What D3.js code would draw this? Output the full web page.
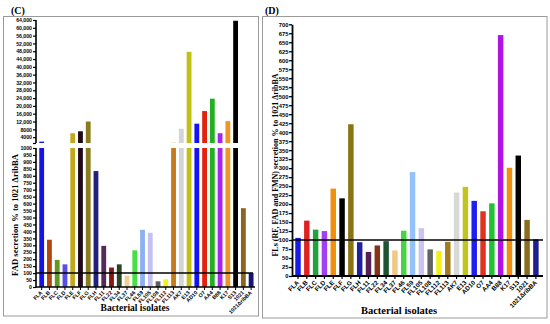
<!DOCTYPE html>
<html><head><meta charset="utf-8">
<script src="https://cdn.jsdelivr.net/npm/d3@7"></script>
<style>body{margin:0;background:#fff} svg{display:block}</style></head>
<body><svg id="chart" width="550" height="324"></svg>
<script>
const categories = ["FLA","FLB","FLC","FLD","FLE","FLF","FLG","FLH","FL11","FL22","FL34","FL37","FL46","FL59","FL105","FL108","FL112","FL113","AK7","E13","AD10","O7","AA4","B88","K17","S13","1021","1021\u0394ribBA"];
// Panel C: FAD secretion % (broken axis)
const fadValues = [1700,340,195,163,6000,7000,12000,834,296,140,163,82,264,411,390,41,55,1100,8300,47700,10900,17350,23700,6000,12200,63600,567,100];
// Panel D: FLs secretion %
const flsValues = [106,154,129,125,243,216,422,94,67,85,97,71,126,289,133,74,70,95,232,248,209,180,202,670,301,335,156,102];
const colorsC = ["#1414e6","#b2460e","#5f9a1e","#5a4ee6","#c2a81e","#200818","#8a7c1e","#22207e","#542a56","#8c1410","#2c4424","#ead294","#44e044","#8cb0f2","#c4c0f2","#5e5e5e","#f2f01e","#c47a1e","#d4d4d4","#c2c014","#1414f2","#e0220e","#22b022","#a424f0","#f09424","#000000","#8c6420","#14147e"];
const colorsD = ["#1a1ae6","#e02020","#20a23c","#a040f0","#f0900e","#000000","#8a7412","#20209e","#542056","#84341a","#1e5230","#f2c888","#44d444","#94c2f8","#cac4f2","#626262","#f2f014","#a47a1e","#d8d8d8","#c2c420","#1e1ef2","#e0321e","#20c232","#b012e2","#f0900e","#000000","#8a6c1e","#20208e"];
const upperTicksC = d3.range(4000, 64001, 4000);
const lowerTicksC = d3.range(0, 1001, 50);
const ticksD = d3.range(0, 701, 25);

const svg = d3.select("#chart");
const tickFont = "Liberation Sans, Arial, sans-serif";
const serif = "Liberation Serif, Times New Roman, serif";

// frames
svg.append("rect").attr("x",3.5).attr("y",16.5).attr("width",255).attr("height",299.5).attr("fill","none").attr("stroke","#9a9a9a");
svg.append("rect").attr("x",262.5).attr("y",16.5).attr("width",284.5).attr("height",301.5).attr("fill","none").attr("stroke","#9a9a9a");
svg.append("text").attr("x",11).attr("y",14).attr("font-family",serif).attr("font-weight","bold").attr("font-size",10).text("(C)");
svg.append("text").attr("x",265).attr("y",14).attr("font-family",serif).attr("font-weight","bold").attr("font-size",10).text("(D)");

// ===== Panel C =====
const xC = d3.scaleBand().domain(categories).range([37.8, 255]).paddingInner(0.38).paddingOuter(0.19);
const yCL = d3.scaleLinear().domain([0, 1000]).range([287, 148]);
const yCU = d3.scaleLinear().domain([1000, 64000]).range([143, 20]);
const gC = svg.append("g");
categories.forEach((c, i) => {
  const v = fadValues[i];
  gC.append("rect").attr("x", xC(c)).attr("width", xC.bandwidth())
    .attr("y", yCL(Math.min(v, 1000))).attr("height", yCL(0) - yCL(Math.min(v, 1000)))
    .attr("fill", colorsC[i]);
  if (v > 1000) {
    gC.append("rect").attr("x", xC(c)).attr("width", xC.bandwidth())
      .attr("y", yCU(v)).attr("height", yCU(1000) - yCU(v)).attr("fill", colorsC[i]);
  }
});
// reference line 100
gC.append("line").attr("x1",36).attr("x2",253).attr("y1",yCL(100)).attr("y2",yCL(100)).attr("stroke","#000").attr("stroke-width",1.5);

const fmtC = v => v >= 10000 ? d3.format(",")(v) : String(v);
const axCU = gC.append("g").attr("transform","translate(36,0)")
  .call(d3.axisLeft(yCU).tickValues(upperTicksC.concat([1000])).tickSize(3).tickFormat(v => v === 1000 ? "" : fmtC(v)));
const axCL = gC.append("g").attr("transform","translate(36,0)")
  .call(d3.axisLeft(yCL).tickValues(lowerTicksC).tickSize(3).tickFormat(d => String(d)));
[axCU, axCL].forEach(a => {
  a.select(".domain").attr("stroke-width",1.6).attr("d", null);
  a.selectAll("text").attr("font-family",tickFont).attr("font-weight","bold").attr("font-size",5.2).attr("x",-4);
  a.selectAll("line").attr("stroke-width",1.2);
});
gC.append("line").attr("x1",36).attr("x2",36).attr("y1",20).attr("y2",143).attr("stroke","#000").attr("stroke-width",1.6);
gC.append("line").attr("x1",36).attr("x2",36).attr("y1",148).attr("y2",287.5).attr("stroke","#000").attr("stroke-width",1.6);

const axCX = gC.append("g").attr("transform","translate(0,287)")
  .call(d3.axisBottom(xC).tickSize(3).tickSizeOuter(0));
axCX.select(".domain").attr("stroke-width",1.6).attr("d","M36,0H255");
axCX.selectAll("line").attr("stroke-width",1);
axCX.selectAll("text").attr("font-family",tickFont).attr("font-weight","bold").attr("font-size",5.3)
  .attr("text-anchor","end").attr("dy",0).attr("y",0)
  .attr("transform","translate(1,6) rotate(-45)");

svg.append("text").attr("transform","translate(18,215) rotate(-90)").attr("text-anchor","middle")
  .attr("font-family",serif).attr("font-weight","bold").attr("font-size",8.6)
  .text("FAD secretion % to 1021 \u0394ribBA");
svg.append("text").attr("x",135).attr("y",311).attr("text-anchor","middle")
  .attr("font-family",serif).attr("font-weight","bold").attr("font-size",9.5).text("Bacterial isolates");

// ===== Panel D =====
const xD = d3.scaleBand().domain(categories).range([293.6, 540.3]).paddingInner(0.38).paddingOuter(0.19);
const yD = d3.scaleLinear().domain([0, 700]).range([276, 24.3]);
const gD = svg.append("g");
gD.selectAll("rect").data(categories).join("rect")
  .attr("x", c => xD(c)).attr("width", xD.bandwidth())
  .attr("y", (c, i) => yD(flsValues[i])).attr("height", (c, i) => yD(0) - yD(flsValues[i]))
  .attr("fill", (c, i) => colorsD[i]);
gD.append("line").attr("x1",292).attr("x2",543).attr("y1",yD(100)).attr("y2",yD(100)).attr("stroke","#000").attr("stroke-width",1.6);

const axDY = gD.append("g").attr("transform","translate(292,0)")
  .call(d3.axisLeft(yD).tickValues(ticksD).tickSize(3).tickSizeOuter(0));
axDY.select(".domain").attr("stroke-width",1.8);
axDY.selectAll("line").attr("stroke-width",1.3);
axDY.selectAll("text").attr("font-family",tickFont).attr("font-weight","bold").attr("font-size",5.8).attr("x",-3.5);

const axDX = gD.append("g").attr("transform","translate(0,276)")
  .call(d3.axisBottom(xD).tickSize(3).tickSizeOuter(0));
axDX.select(".domain").attr("stroke-width",1.8).attr("d","M292,0H543");
axDX.selectAll("line").attr("stroke-width",1.2);
axDX.selectAll("text").attr("font-family",tickFont).attr("font-weight","bold").attr("font-size",6.3)
  .attr("text-anchor","end").attr("dy",0).attr("y",0)
  .attr("transform","translate(1.5,7) rotate(-45)");

svg.append("text").attr("transform","translate(277.5,165) rotate(-90)").attr("text-anchor","middle")
  .attr("font-family",serif).attr("font-weight","bold").attr("font-size",8)
  .text("FLs (RF, FAD and FMN) secretion % to 1021 \u0394ribBA");
svg.append("text").attr("x",399).attr("y",314).attr("text-anchor","middle")
  .attr("font-family",serif).attr("font-weight","bold").attr("font-size",10.5).text("Bacterial isolates");
</script></body></html>
